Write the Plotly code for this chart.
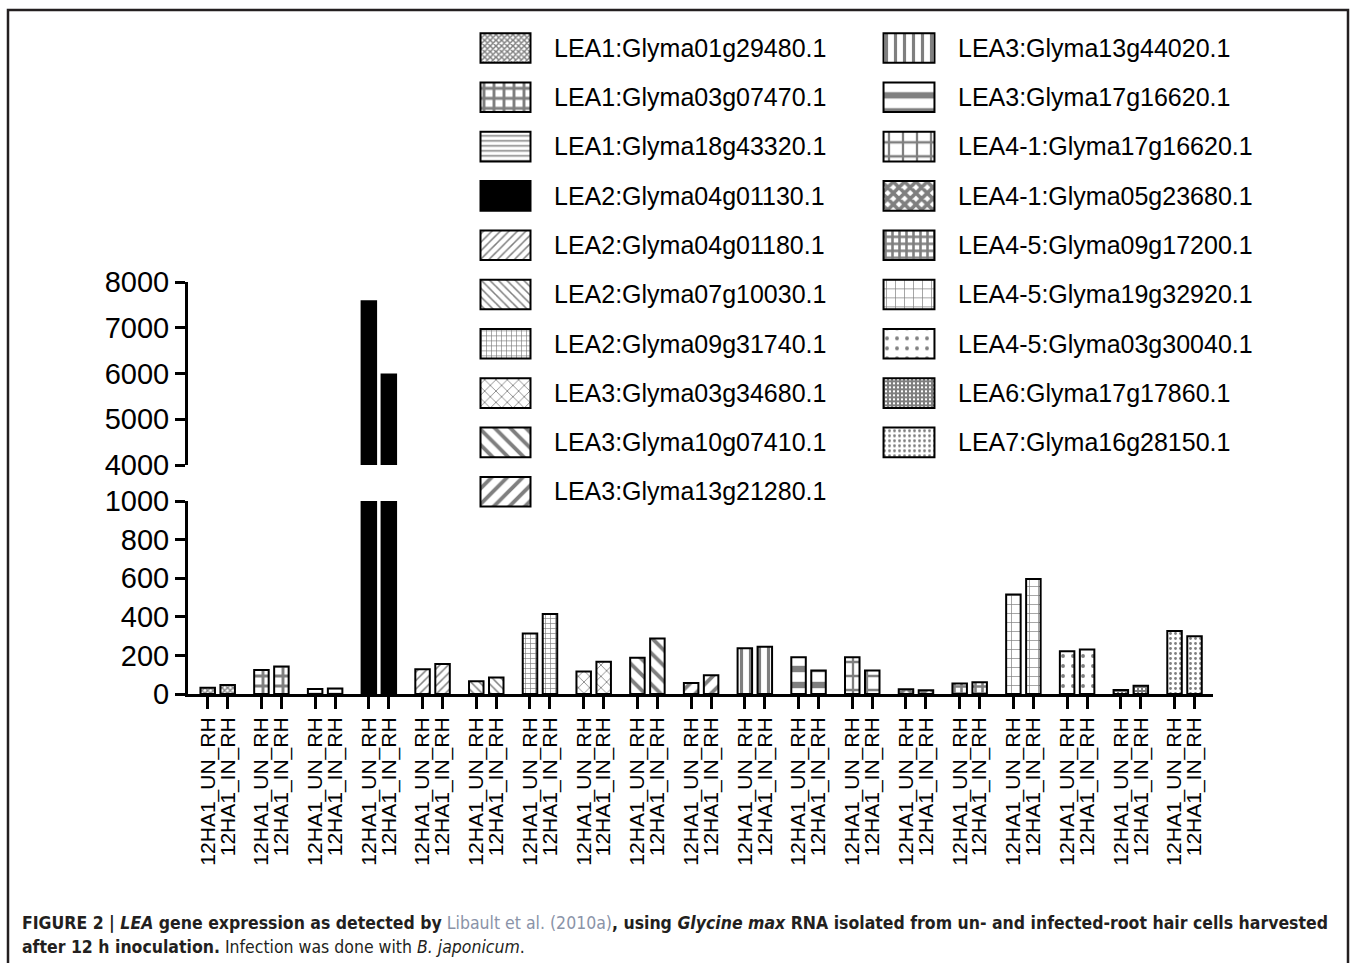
import plotly.graph_objects as go

# ---------------- data ----------------
genes = [
    "LEA1:Glyma01g29480.1", "LEA1:Glyma03g07470.1", "LEA1:Glyma18g43320.1",
    "LEA2:Glyma04g01130.1", "LEA2:Glyma04g01180.1", "LEA2:Glyma07g10030.1",
    "LEA2:Glyma09g31740.1", "LEA3:Glyma03g34680.1", "LEA3:Glyma10g07410.1",
    "LEA3:Glyma13g21280.1", "LEA3:Glyma13g44020.1", "LEA3:Glyma17g16620.1",
    "LEA4-1:Glyma17g16620.1", "LEA4-1:Glyma05g23680.1", "LEA4-5:Glyma09g17200.1",
    "LEA4-5:Glyma19g32920.1", "LEA4-5:Glyma03g30040.1", "LEA6:Glyma17g17860.1",
    "LEA7:Glyma16g28150.1",
]
un_values = [33, 125, 26, 7580, 128, 66, 314, 116, 188, 57, 237, 190, 190, 24, 54, 515, 221, 21, 327]
in_values = [47, 142, 29, 5980, 156, 85, 415, 167, 287, 97, 245, 122, 122, 19, 61, 596, 231, 43, 299]
sample_labels = ["12HA1_UN_RH", "12HA1_IN_RH"]
lower_ticks = [0, 200, 400, 600, 800, 1000]
upper_ticks = [4000, 5000, 6000, 7000, 8000]

# ---------------- styles ----------------
patterns = [
    dict(shape="x", size=4, solidity=0.6),
    dict(shape="+", size=10, solidity=0.5),
    dict(shape="-", size=5, solidity=0.3),
    None,
    dict(shape="/", size=6, solidity=0.25),
    dict(shape="\\", size=6, solidity=0.25),
    dict(shape="+", size=5, solidity=0.25),
    dict(shape="x", size=8, solidity=0.2),
    dict(shape="\\", size=11, solidity=0.35),
    dict(shape="/", size=11, solidity=0.35),
    dict(shape="|", size=9, solidity=0.35),
    dict(shape="-", size=16, solidity=0.4),
    dict(shape="+", size=14, solidity=0.3),
    dict(shape="x", size=8, solidity=0.7),
    dict(shape="+", size=7, solidity=0.6),
    dict(shape="+", size=9, solidity=0.15),
    dict(shape=".", size=10, solidity=0.12),
    dict(shape="+", size=4, solidity=0.75),
    dict(shape=".", size=5, solidity=0.25),
]

W, H = 1355, 963
FONT = "Liberation Sans, Arial, Helvetica, sans-serif"


def fx(px):
    return px / W


def fy(py):
    return 1 - py / H


def marker_for(i):
    p = patterns[i]
    if p is None:
        return dict(color="black", line=dict(color="black", width=2))
    return dict(color="white", line=dict(color="black", width=2),
                pattern=dict(shape=p["shape"], size=p["size"], solidity=p["solidity"],
                             fgcolor="black", bgcolor="white", fillmode="overlay"))


half = 0.186   # half distance between the two bars of a group (axis units)
bw = 0.27      # bar width (axis units)

fig = go.Figure()
tickvals, ticktext = [], []
for i, g in enumerate(genes):
    xs = [i - half, i + half]
    ys = [un_values[i], in_values[i]]
    tickvals += xs
    ticktext += sample_labels
    for ya in ("y", "y2"):
        fig.add_trace(go.Bar(x=xs, y=ys, width=bw, marker=marker_for(i),
                             xaxis="x", yaxis=ya, showlegend=False, name=g))

# custom legend swatches (two columns)
col1, col2 = genes[:10], genes[10:]
for names, xa, ya, offset in ((col1, "x3", "y3", 0), (col2, "x4", "y4", 10)):
    for k, nm in enumerate(names):
        fig.add_trace(go.Bar(x=[1], y=[nm], orientation="h", width=0.6,
                             marker=marker_for(offset + k), xaxis=xa, yaxis=ya,
                             showlegend=False, hoverinfo="skip"))

axis_common = dict(showgrid=False, zeroline=False, color="black", automargin=False)
row = 49.3
top = 48 - row / 2

fig.update_layout(
    template="none",
    width=W, height=H, autosize=False,
    margin=dict(l=0, r=0, t=0, b=0, pad=0, autoexpand=False),
    paper_bgcolor="white", plot_bgcolor="white",
    barmode="overlay",
    font=dict(family=FONT, color="black"),
    xaxis=dict(domain=[fx(188), fx(1213)], range=[-0.553, 18.53], anchor="y",
               showline=True, linewidth=3, linecolor="black",
               ticks="outside", ticklen=12, tickwidth=3, tickcolor="black",
               tickvals=tickvals, ticktext=ticktext, tickangle=-90,
               tickfont=dict(size=21, family=FONT), **axis_common),
    yaxis=dict(domain=[fy(694), fy(501)], range=[0, 1000], anchor="x",
               showline=True, linewidth=3, linecolor="black",
               ticks="outside", ticklen=10, tickwidth=3, tickcolor="black",
               tickvals=lower_ticks, tickfont=dict(size=29, family=FONT), **axis_common),
    yaxis2=dict(domain=[fy(465), fy(282)], range=[4000, 8000], anchor="x",
                showline=True, linewidth=3, linecolor="black",
                ticks="outside", ticklen=10, tickwidth=3, tickcolor="black",
                tickvals=upper_ticks, tickfont=dict(size=29, family=FONT), **axis_common),
    xaxis3=dict(domain=[fx(479), fx(532)], range=[-0.03, 1.03], anchor="y3",
                visible=False),
    yaxis3=dict(domain=[fy(top + row * 10), fy(top)], range=[9.5, -0.5], anchor="x3",
                side="right", type="category", showline=False, ticks="outside",
                ticklen=16, tickcolor="rgba(0,0,0,0)", tickfont=dict(size=25, family=FONT),
                **axis_common),
    xaxis4=dict(domain=[fx(882), fx(936)], range=[-0.03, 1.03], anchor="y4",
                visible=False),
    yaxis4=dict(domain=[fy(top + row * 9), fy(top)], range=[8.5, -0.5], anchor="x4",
                side="right", type="category", showline=False, ticks="outside",
                ticklen=16, tickcolor="rgba(0,0,0,0)", tickfont=dict(size=25, family=FONT),
                **axis_common),
)

# frame around the figure (open at the bottom)
fig.add_shape(type="path", xref="paper", yref="paper",
              path=f"M {fx(8)},{fy(970)} L {fx(8)},{fy(10)} L {fx(1348)},{fy(10)} L {fx(1348)},{fy(970)}",
              line=dict(color="#231f20", width=2.5))

cap_font = dict(family="Liberation Sans Narrow, DejaVu Sans Condensed, Arial Narrow, sans-serif",
                size=17.5, color="#231f20")
line1 = ("<b>FIGURE 2 | <i>LEA</i> gene expression as detected by</b> "
         "<span style='color:#8a93a8'>Libault et al. (2010a)</span>"
         "<b>, using <i>Glycine max</i> RNA isolated from un- and infected-root hair cells harvested</b>")
line2 = "<b>after 12 h inoculation.</b> Infection was done with <i>B. japonicum</i>."
fig.add_annotation(text=line1, xref="paper", yref="paper", x=fx(20), y=fy(923),
                   xanchor="left", yanchor="middle", showarrow=False, font=cap_font)
fig.add_annotation(text=line2, xref="paper", yref="paper", x=fx(20), y=fy(947),
                   xanchor="left", yanchor="middle", showarrow=False, font=cap_font)

fig.write_html("out.html", config={"displayModeBar": False},
               post_script="document.body.style.margin='0';")
